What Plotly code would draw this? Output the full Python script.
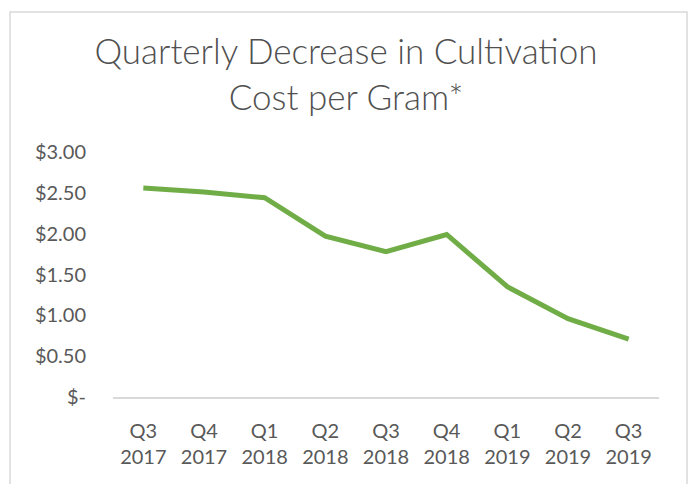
import plotly.graph_objects as go

# Quarterly cultivation cost per gram (USD)
quarters = ["Q3<br>2017", "Q4<br>2017", "Q1<br>2018", "Q2<br>2018", "Q3<br>2018",
            "Q4<br>2018", "Q1<br>2019", "Q2<br>2019", "Q3<br>2019"]
cost_per_gram = [2.56, 2.51, 2.44, 1.97, 1.78, 1.99, 1.35, 0.96, 0.71]

y_ticks = [0, 0.5, 1.0, 1.5, 2.0, 2.5, 3.0]
y_tick_text = ["$-", "$0.50", "$1.00", "$1.50", "$2.00", "$2.50", "$3.00"]

title_text = "Quarterly Decrease in Cultivation<br>Cost per Gram*"

W, H = 692, 484
ml, mr, mt, mb = 113, 33, 152, 87
pw, ph = W - ml - mr, H - mt - mb

def px_x(x):
    return (x - ml) / pw

def px_y(y):
    return (H - mb - y) / ph

font_family = "Lato, 'Open Sans', sans-serif"
grey = "#595959"

fig = go.Figure(
    go.Scatter(
        x=list(range(len(quarters))),
        y=cost_per_gram,
        mode="lines",
        line=dict(color="#70AD47", width=5, shape="linear"),
        hoverinfo="skip",
    )
)

fig.update_layout(
    width=W,
    height=H,
    margin=dict(l=ml, r=mr, t=mt, b=mb),
    paper_bgcolor="white",
    plot_bgcolor="white",
    showlegend=False,
    font=dict(family=font_family, color=grey, size=19),
    title=dict(
        text=title_text,
        x=0.5,
        xref="container",
        xanchor="center",
        y=1 - 64 / H,
        yanchor="middle",
        font=dict(family=font_family, size=35, color="#505050", weight=300),
    ),
    xaxis=dict(
        range=[-0.5, len(quarters) - 0.5],
        tickvals=list(range(len(quarters))),
        ticktext=quarters,
        showgrid=False,
        zeroline=False,
        showline=True,
        linecolor="#D9D9D9",
        linewidth=1.5,
        ticks="",
        ticklabelstandoff=15,
        tickfont=dict(size=20, color=grey),
        fixedrange=True,
    ),
    yaxis=dict(
        range=[0, 3.0],
        tickvals=y_ticks,
        ticktext=y_tick_text,
        showgrid=False,
        zeroline=False,
        showline=False,
        ticks="",
        ticklabelstandoff=26,
        tickfont=dict(size=20, color=grey),
        fixedrange=True,
    ),
    shapes=[
        dict(
            type="rect",
            xref="paper",
            yref="paper",
            x0=px_x(10),
            x1=px_x(687),
            y0=px_y(495),
            y1=px_y(12),
            line=dict(color="#D9D9D9", width=1.5),
            fillcolor="rgba(0,0,0,0)",
            layer="below",
        )
    ],
)

fig.write_html("out.html")
